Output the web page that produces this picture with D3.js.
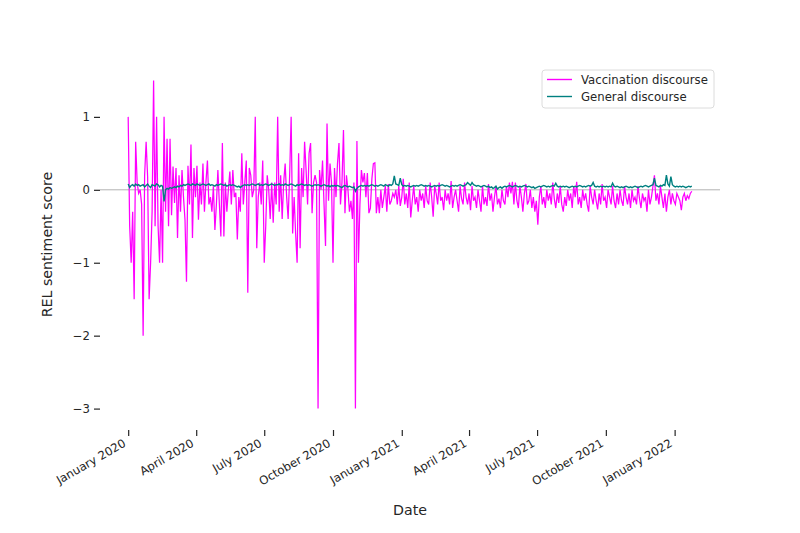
<!DOCTYPE html>
<html>
<head>
<meta charset="utf-8">
<script src="https://d3js.org/d3.v7.min.js"></script>
<style>
  body { margin: 0; background: #fff; }
  text { font-family: "DejaVu Sans", sans-serif; fill: #262626; }
</style>
</head>
<body>
<div id="chart"></div>
<script>
// one value every 2 days starting 1 Jan 2020
const startDay = new Date(2020, 0, 1);
const stepDays = 2;

const vaccination = [
  1.0, -0.5, -1.0, -0.3, -1.5, 0.66, 0.1, -0.05, 0.0, -0.2,
  -2.0, 0.2, 0.66, 0.18, -1.5, -1.0, -0.3, 1.5, -0.5, 1.0,
  -0.5, -1.0, 0.0, -1.0, 1.0, -0.3, 0.7, -0.5, 0.7, -0.35,
  0.32, -0.18, 0.3, -0.66, 0.2, -0.3, 0.27, -0.1, -0.41, -1.26,
  0.33, -0.2, 0.62, -0.66, 0.3, -0.1, 0.33, -0.41, 0.1, -0.2,
  0.36, -0.3, 0.1, 0.4, -0.2, -0.1, -0.3, 0.05, -0.55, -0.2,
  0.27, -0.2, -0.64, 0.64, -0.64, 0.1, -0.3, 0.0, 0.25, -0.2,
  0.27, -0.1, -0.04, -0.68, -0.1, -0.3, 0.5, -0.2, 0.1, 0.4,
  -1.41, 0.3, 0.2, -0.1, 0.0, 1.0, -0.8, -0.1, 0.1, -0.2,
  0.4, -1.0, -0.5, 0.2, 0.0, -0.4, 0.1, -0.45, 0.1, -0.2,
  1.0, -0.3, 0.2, -0.4, 0.1, 0.36, -0.1, -0.4, 0.2, 1.0,
  -0.6, -0.1, -0.6, -1.0, 0.5, -0.8, 0.3, -0.1, 0.66, 0.27,
  -0.2, 0.5, 0.64, -0.32, 0.1, 0.2, 0.1, -3.0, 0.27, 0.0,
  0.4, -0.2, -0.77, 0.91, -0.15, 0.36, 0.1, -1.0, 0.3, -0.1,
  0.36, 0.64, -0.2, 0.1, 0.82, -0.32, 0.2, 0.0, -0.3, -0.15,
  -0.4, 0.1, -3.0, 0.67, -1.0, -0.2, 0.27, 0.1, 0.23, -0.1,
  0.23, -0.32, -0.25, 0.15, 0.36, 0.37, -0.32, -0.1, -0.32, 0.0,
  -0.25, -0.1, 0.05, -0.3, 0.08, -0.2, -0.15, -0.05, -0.1, 0.0,
  -0.2, 0.05, -0.22, -0.1, 0.15, -0.2, -0.05, -0.25, 0.1, -0.38,
  -0.15, 0.05, -0.2, -0.1, -0.3, 0.0, -0.15, -0.05, -0.25, 0.05,
  -0.15, -0.2, 0.1, -0.1, -0.37, 0.05, -0.05, -0.2, 0.1, -0.15,
  -0.1, -0.28, 0.0, -0.15, -0.05, -0.2, 0.12, -0.25, -0.1, 0.0,
  -0.15, -0.3, 0.05, -0.12, -0.2, 0.1, -0.1, -0.2, -0.05, -0.28,
  0.05, -0.15, -0.1, -0.25, 0.0, -0.15, -0.3, 0.05, -0.2, -0.1,
  -0.22, 0.08, -0.15, -0.05, -0.3, -0.1, 0.05, -0.2, -0.12, -0.25,
  0.0, -0.15, -0.2, 0.05, -0.1, 0.1, -0.05, 0.11, -0.2, 0.1,
  -0.15, -0.25, 0.05, -0.1, -0.3, -0.05, 0.08, -0.2, -0.15, 0.0,
  -0.25, -0.1, -0.3, -0.15, -0.48, -0.1, 0.05, -0.2, -0.1, -0.25,
  0.0, -0.15, -0.05, -0.2, 0.1, -0.12, -0.25, -0.05, -0.18, 0.05,
  -0.2, -0.3, -0.1, -0.22, 0.0, -0.15, -0.05, -0.25, 0.05, -0.1,
  0.11, -0.2, -0.1, -0.25, 0.0, -0.15, -0.05, -0.2, -0.3, 0.05,
  -0.1, -0.2, 0.0, -0.15, -0.27, -0.05, -0.2, 0.08, -0.15, -0.1,
  -0.25, 0.0, -0.1, -0.2, 0.05, -0.15, -0.25, -0.05, -0.2, 0.0,
  -0.15, -0.22, 0.05, -0.1, -0.2, -0.05, -0.25, 0.0, -0.15, -0.1,
  -0.2, 0.05, -0.12, -0.25, -0.05, -0.15, -0.1, -0.3, 0.0, -0.2,
  -0.1, 0.05, 0.2, -0.15, -0.05, -0.2, 0.05, -0.1, -0.25, -0.05,
  -0.3, -0.1, 0.0, -0.2, -0.05, -0.15, -0.2, -0.05, -0.1, -0.15,
  -0.28, -0.1, -0.05, -0.15, -0.08, -0.12, -0.05, -0.02
];

const general = [
  0.08, 0.03, 0.06, 0.07, 0.05, 0.08, 0.06, 0.07, 0.05, 0.06,
  0.07, 0.04, 0.06, 0.08, 0.05, 0.03, 0.07, 0.06, 0.05, 0.08,
  0.07, 0.04, 0.06, 0.05, -0.16, 0.0, 0.02, 0.01, 0.03, 0.02,
  0.03, 0.04, 0.03, 0.05, 0.04, 0.06, 0.05, 0.07, 0.06, 0.07,
  0.08, 0.07, 0.06, 0.08, 0.07, 0.06, 0.08, 0.07, 0.06, 0.07,
  0.08, 0.07, 0.06, 0.07, 0.08, 0.06, 0.07, 0.06, 0.05, 0.07,
  0.06, 0.07, 0.08, 0.07, 0.06, 0.07, 0.05, 0.06, 0.07, 0.06,
  0.07, 0.06, 0.05, 0.04, 0.05, 0.03, 0.05, 0.06, 0.07, 0.06,
  0.07, 0.06, 0.07, 0.08, 0.07, 0.06, 0.07, 0.08, 0.06, 0.07,
  0.06, 0.07, 0.08, 0.07, 0.06, 0.07, 0.08, 0.07, 0.06, 0.07,
  0.07, 0.08, 0.06, 0.07, 0.06, 0.08, 0.07, 0.06, 0.07, 0.08,
  0.07, 0.06, 0.05, 0.07, 0.06, 0.07, 0.08, 0.07, 0.06, 0.07,
  0.06, 0.07, 0.06, 0.05, 0.06, 0.07, 0.06, 0.07, 0.06, 0.05,
  0.06, 0.07, 0.06, 0.05, 0.06, 0.04, 0.06, 0.05, 0.06, 0.05,
  0.06, 0.05, 0.04, 0.03, 0.05, 0.06, 0.05, 0.04, 0.05, 0.04,
  0.03, 0.04, -0.02, 0.02, 0.04, 0.05, 0.06, 0.05, 0.06, 0.05,
  0.06, 0.05, 0.06, 0.07, 0.06, 0.05, 0.06, 0.05, 0.06, 0.07,
  0.06, 0.05, 0.07, 0.06, 0.05, 0.07, 0.06, 0.08, 0.19, 0.08,
  0.07, 0.06, 0.16, 0.07, 0.05, 0.06, 0.05, 0.06, 0.05, 0.04,
  0.05, 0.06, 0.05, 0.06, 0.05, 0.06, 0.07, 0.06, 0.05, 0.06,
  0.05, 0.06, 0.05, 0.04, 0.05, 0.06, 0.05, 0.06, 0.05, 0.06,
  0.07, 0.06, 0.05, 0.06, 0.05, 0.04, 0.05, 0.06, 0.05, 0.06,
  0.05, 0.06, 0.07, 0.06, 0.05, 0.06, 0.07, 0.10, 0.08, 0.06,
  0.10, 0.07, 0.06, 0.05, 0.06, 0.05, 0.04, 0.05, 0.06, 0.05,
  0.04, 0.05, 0.03, 0.04, 0.02, 0.03, 0.05, 0.01, 0.03, 0.04,
  0.02, 0.04, 0.05, 0.04, 0.05, 0.06, 0.05, 0.04, 0.05, 0.06,
  0.05, 0.04, 0.05, 0.04, 0.05, 0.06, 0.05, 0.04, 0.05, 0.04,
  0.03, 0.04, 0.02, 0.03, 0.04, 0.05, 0.04, 0.05, 0.06, 0.05,
  0.04, 0.05, 0.04, 0.05, 0.06, 0.05, 0.09, 0.05, 0.04, 0.05,
  0.04, 0.05, 0.04, 0.05, 0.04, 0.03, 0.04, 0.05, 0.04, 0.05,
  0.04, 0.05, 0.06, 0.05, 0.04, 0.05, 0.04, 0.05, 0.06, 0.05,
  0.06, 0.10, 0.05, 0.04, 0.05, 0.04, 0.05, 0.04, 0.05, 0.04,
  0.05, 0.04, 0.05, 0.04, 0.09, 0.05, 0.04, 0.05, 0.04, 0.03,
  0.04, 0.03, 0.04, 0.05, 0.04, 0.03, 0.04, 0.03, 0.04, 0.05,
  0.04, 0.03, 0.04, 0.05, 0.04, 0.05, 0.06, 0.05, 0.04, 0.05,
  0.06, 0.07, 0.16, 0.06, 0.05, 0.04, 0.06, 0.05, 0.07, 0.06,
  0.20, 0.08, 0.05, 0.18, 0.07, 0.05, 0.04, 0.05, 0.04, 0.05,
  0.04, 0.05, 0.04, 0.03, 0.04, 0.05, 0.04, 0.05
];

const seriesNames = ["Vaccination discourse", "General discourse"];
const seriesColors = ["#ff00ff", "#008080"];
const yTicks = [-3, -2, -1, 0, 1];

const W = 800, H = 533;
const plotLeft = 100, plotRight = 720, plotTop = 64, plotBottom = 425;

const dates = vaccination.map((v, i) => d3.timeDay.offset(startDay, i * stepDays));

// 5% margins like matplotlib
const xExt = d3.extent(dates);
const pad = (xExt[1] - xExt[0]) * 0.05;
const x = d3.scaleTime()
  .domain([new Date(+xExt[0] - pad), new Date(+xExt[1] + pad)])
  .range([plotLeft, plotRight]);

const yMin = d3.min([...vaccination, ...general]);
const yMax = d3.max([...vaccination, ...general]);
const yPad = (yMax - yMin) * 0.05;
const y = d3.scaleLinear()
  .domain([yMin - yPad, yMax + yPad])
  .range([plotBottom, plotTop]);

const svg = d3.select("#chart").append("svg")
  .attr("width", W)
  .attr("height", H);

// zero line
svg.append("line")
  .attr("x1", plotLeft).attr("x2", plotRight)
  .attr("y1", y(0)).attr("y2", y(0))
  .attr("stroke", "#b3b3b3")
  .attr("stroke-width", 1);

const line = d3.line()
  .x((d, i) => x(dates[i]))
  .y(d => y(d));

svg.append("path")
  .datum(vaccination)
  .attr("fill", "none")
  .attr("stroke", seriesColors[0])
  .attr("stroke-width", 1.25)
  .attr("d", line);

svg.append("path")
  .datum(general)
  .attr("fill", "none")
  .attr("stroke", seriesColors[1])
  .attr("stroke-width", 1.4)
  .attr("d", line);

// y axis
const yAxis = svg.append("g")
  .attr("transform", `translate(${plotLeft},0)`)
  .call(d3.axisLeft(y).tickValues(yTicks).tickFormat(d3.format("d")).tickSize(6).tickPadding(4));
yAxis.select(".domain").remove();
yAxis.selectAll(".tick line").attr("stroke", "#262626").attr("stroke-width", 1.2);
yAxis.selectAll("text").style("font-size", "11.7px");

// x axis
const xTickVals = [];
for (let yr = 2020; yr <= 2022; yr++) {
  for (const m of [0, 3, 6, 9]) {
    const dt = new Date(yr, m, 1);
    if (dt <= new Date(2022, 0, 1)) xTickVals.push(dt);
  }
}
const xAxis = svg.append("g")
  .attr("transform", `translate(0,${plotBottom + 5})`)
  .call(d3.axisBottom(x).tickValues(xTickVals).tickSize(6).tickFormat(d3.timeFormat("%B %Y")));
xAxis.select(".domain").remove();
xAxis.selectAll(".tick line").attr("stroke", "#262626").attr("stroke-width", 1.2);
xAxis.selectAll("text")
  .style("font-size", "11.7px")
  .attr("text-anchor", "end")
  .attr("x", 0)
  .attr("y", 0)
  .attr("dy", "0.35em")
  .attr("transform", "translate(-4,12) rotate(-30)");

// axis titles
svg.append("text")
  .attr("x", (plotLeft + plotRight) / 2)
  .attr("y", 515)
  .attr("text-anchor", "middle")
  .style("font-size", "14.2px")
  .text("Date");

svg.append("text")
  .attr("transform", `translate(52,${(plotTop + plotBottom) / 2}) rotate(-90)`)
  .attr("text-anchor", "middle")
  .style("font-size", "14.2px")
  .text("REL sentiment score");

// legend
const lg = svg.append("g").attr("transform", "translate(542,70)");
lg.append("rect")
  .attr("width", 172).attr("height", 38)
  .attr("rx", 3)
  .attr("fill", "#fff")
  .attr("stroke", "#dcdcdc");
seriesNames.forEach((name, i) => {
  const yy = 9.5 + i * 17;
  lg.append("line")
    .attr("x1", 5).attr("x2", 30)
    .attr("y1", yy).attr("y2", yy)
    .attr("stroke", seriesColors[i])
    .attr("stroke-width", 1.4);
  lg.append("text")
    .attr("x", 39).attr("y", yy)
    .attr("dy", "0.35em")
    .style("font-size", "11.7px")
    .text(name);
});
</script>
</body>
</html>
